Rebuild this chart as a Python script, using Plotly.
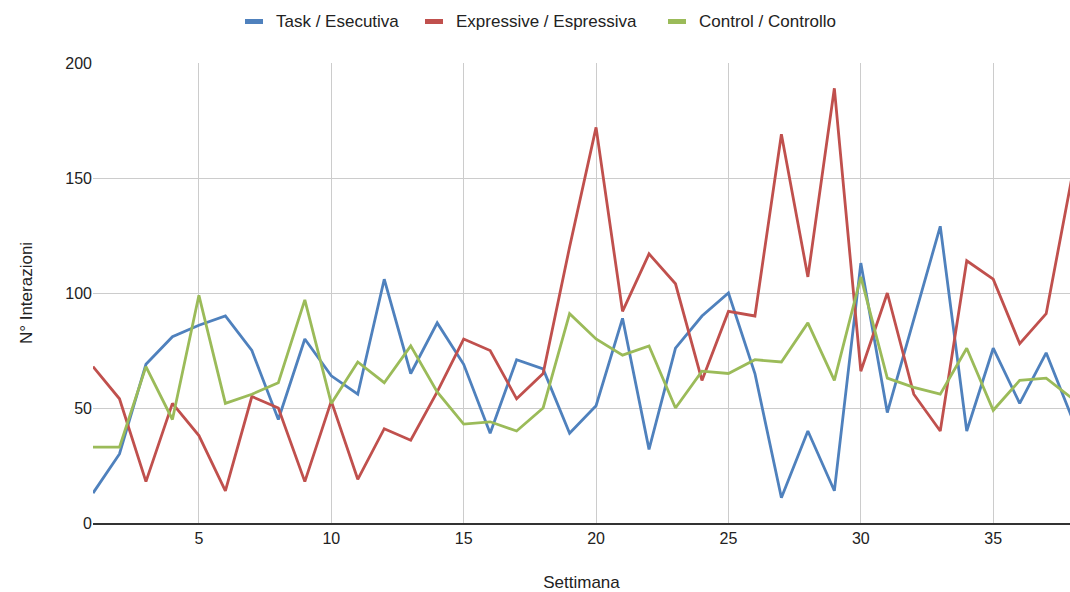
import plotly.graph_objects as go

settimana = list(range(1, 39))
task = [13, 30, 69, 81, 86, 90, 75, 45, 80, 64, 56, 106, 65, 87, 69, 39, 71, 67, 39, 51,
        89, 32, 76, 90, 100, 65, 11, 40, 14, 113, 48, 88, 129, 40, 76, 52, 74, 45]
expressive = [68, 54, 18, 52, 38, 14, 55, 50, 18, 53, 19, 41, 36, 57, 80, 75, 54, 65, 120, 172,
              92, 117, 104, 62, 92, 90, 169, 107, 189, 66, 100, 56, 40, 114, 106, 78, 91, 152]
control = [33, 33, 68, 45, 99, 52, 56, 61, 97, 52, 70, 61, 77, 57, 43, 44, 40, 50, 91, 80,
           73, 77, 50, 66, 65, 71, 70, 87, 62, 107, 63, 59, 56, 76, 49, 62, 63, 54]

names = ["Task / Esecutiva", "Expressive / Espressiva", "Control / Controllo"]
colors = ["#4f81bd", "#c0504d", "#9bbb59"]
values = [task, expressive, control]

W, H = 1070, 592
L, R, T, B = 93, 0, 63, 69
PW, PH = W - L - R, H - T - B

fig = go.Figure()
for name, vals, col in zip(names, values, colors):
    fig.add_trace(go.Scatter(x=settimana, y=vals, mode="lines", name=name,
                             line=dict(color=col, width=2.8), showlegend=False))

font = "Liberation Sans, Arial, sans-serif"
txt = "#222222"

# manual legend (swatch + label) placed in pixel positions converted to paper coords
def px(x):
    return (x - L) / PW

def py(y):
    return (H - B - y) / PH

legend_swatch_x = [245, 425, 668]
for name, col, sx in zip(names, colors, legend_swatch_x):
    fig.add_shape(type="rect", xref="paper", yref="paper",
                  x0=px(sx), x1=px(sx + 18), y0=py(24), y1=py(19),
                  fillcolor=col, line=dict(width=0))
    fig.add_annotation(xref="paper", yref="paper", x=px(sx + 29), y=py(21.5),
                       xanchor="left", yanchor="middle", text=name, showarrow=False,
                       font=dict(family=font, size=17, color=txt))

fig.update_layout(
    width=W, height=H,
    margin=dict(l=L, r=R, t=T, b=B),
    plot_bgcolor="white", paper_bgcolor="white",
    font=dict(family=font, size=16, color=txt),
    showlegend=False,
    xaxis=dict(range=[1, 37.9], tickvals=[5, 10, 15, 20, 25, 30, 35],
               showgrid=True, gridcolor="#cccccc", gridwidth=1, automargin=False,
               zeroline=False, showline=True, linecolor="#333333", linewidth=1.5,
               ticks="", tickfont=dict(size=16, color=txt),
               title=dict(text="Settimana", font=dict(size=17, color=txt), standoff=32)),
    yaxis=dict(range=[0, 200], tickvals=[0, 50, 100, 150, 200],
               showgrid=True, gridcolor="#cccccc", gridwidth=1, automargin=False,
               zeroline=False, showline=False, ticks="",
               tickfont=dict(size=16, color=txt),
               title=dict(text="N° Interazioni", font=dict(size=17, color=txt), standoff=28)),
)

fig.write_html("out.html", config={"displayModeBar": False},
               post_script="document.body.style.margin='0';")
